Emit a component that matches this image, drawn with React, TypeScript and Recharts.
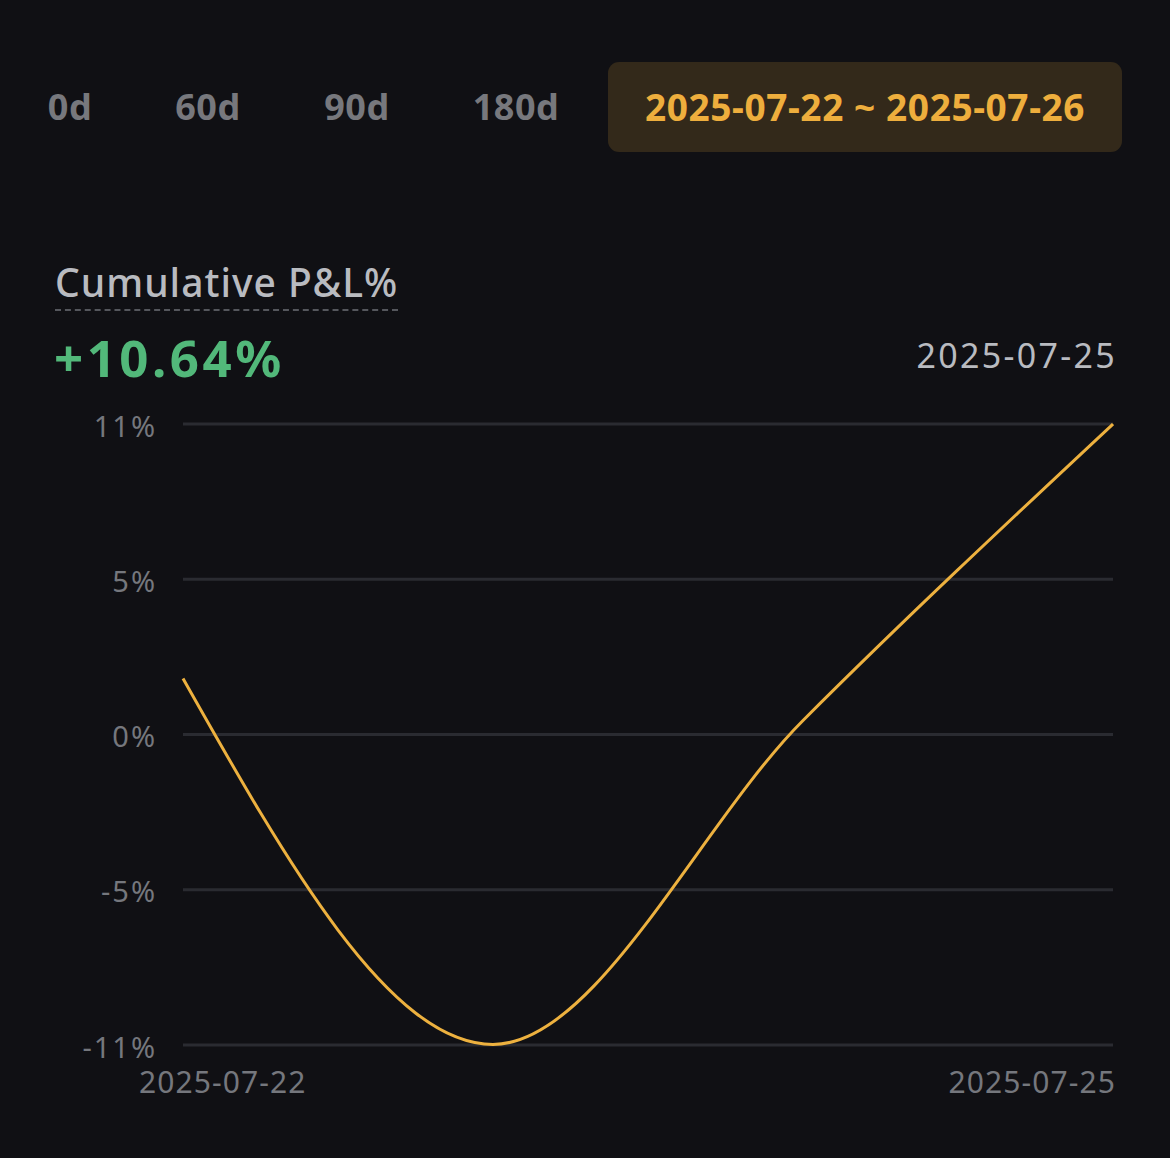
import React from "react";
import { LineChart, Line, XAxis, YAxis, CartesianGrid } from "recharts";

const dates = ["2025-07-22", "2025-07-23", "2025-07-24", "2025-07-25"];
const pnl = [1.92, -10.62, 0.48, 10.64];
const yTicks = [-10.64, -5.32, 0, 5.32, 10.64];
const xTicks = ["2025-07-22", "2025-07-25"];
const tabs = ["0d", "60d", "90d", "180d"];
const tabCenters = [70, 208, 357, 516];
const rangeLabel = "2025-07-22 ~ 2025-07-26";
const title = "Cumulative P&L%";
const headline = "+10.64%";
const lastDate = "2025-07-25";

const data = dates.map((d, i) => ({ date: d, value: pnl[i] }));

const FONT = "'Noto Sans', 'Open Sans', sans-serif";
const BG = "#101014";
const LINE = "#EDB13F";

const YTick = (props: any) => {
  const { y, payload } = props;
  return (
    <text
      x={157}
      y={y + 1}
      textAnchor="end"
      dominantBaseline="central"
      fill="#75777d"
      fontSize={29}
      letterSpacing={2}
      fontFamily={FONT}
    >
      {Math.round(payload.value) + "%"}
    </text>
  );
};

const XTick = (props: any) => {
  const { x, y, payload, index } = props;
  const first = index === 0;
  return (
    <text
      x={first ? x - 44 : x + 3}
      y={y + 28}
      textAnchor={first ? "start" : "end"}
      dominantBaseline="central"
      fill="#75777d"
      fontSize={30}
      letterSpacing={1.1}
      fontFamily={FONT}
    >
      {payload.value}
    </text>
  );
};

export default function App() {
  return (
    <div style={{ position: "absolute", left: 0, top: 0, width: 1170, height: 1158, background: BG, overflow: "hidden", fontFamily: FONT }}>
      {tabs.map((t, i) => (
        <div
          key={t}
          style={{
            position: "absolute",
            left: tabCenters[i] - 100,
            width: 200,
            top: 84,
            height: 46,
            lineHeight: "46px",
            textAlign: "center",
            color: "#77787d",
            fontWeight: 700,
            fontSize: 36,
            letterSpacing: 0.5,
          }}
        >
          {t}
        </div>
      ))}
      <div
        style={{
          position: "absolute",
          left: 608,
          top: 62,
          width: 514,
          height: 90,
          borderRadius: 11,
          background: "#33291a",
          color: "#EEAE3D",
          fontWeight: 700,
          fontSize: 37,
          letterSpacing: 0.6,
          lineHeight: "90px",
          textAlign: "center",
        }}
      >
        {rangeLabel}
      </div>
      <div
        style={{
          position: "absolute",
          left: 55,
          top: 257,
          color: "#b9bbc0",
          fontSize: 39,
          fontWeight: 500,
          letterSpacing: 1,
          lineHeight: "50px",
          paddingBottom: 2,
          borderBottom: "2px dashed #55575d",
        }}
      >
        {title}
      </div>
      <div
        style={{
          position: "absolute",
          left: 54,
          top: 326,
          color: "#52b87a",
          fontSize: 51,
          fontWeight: 700,
          letterSpacing: 3.5,
          lineHeight: "62px",
        }}
      >
        {headline}
      </div>
      <div
        style={{
          position: "absolute",
          right: 53,
          top: 332,
          color: "#b9bbc0",
          fontSize: 34,
          letterSpacing: 2.3,
          lineHeight: "46px",
        }}
      >
        {lastDate}
      </div>
      <div style={{ position: "absolute", left: 0, top: 380 }}>
        <LineChart width={1170} height={740} data={data} margin={{ top: 44, right: 57, bottom: 15, left: 0 }}>
          <CartesianGrid vertical={false} stroke="#2a2b31" strokeWidth={3} horizontalValues={yTicks} />
          <XAxis
            dataKey="date"
            ticks={xTicks}
            interval={0}
            axisLine={false}
            tickLine={false}
            height={60}
            tick={<XTick />}
          />
          <YAxis
            type="number"
            domain={[-10.64, 10.64]}
            ticks={yTicks}
            interval={0}
            width={183}
            axisLine={false}
            tickLine={false}
            tick={<YTick />}
          />
          <Line type="monotone" dataKey="value" stroke={LINE} strokeWidth={3} dot={false} isAnimationActive={false} />
        </LineChart>
      </div>
    </div>
  );
}
